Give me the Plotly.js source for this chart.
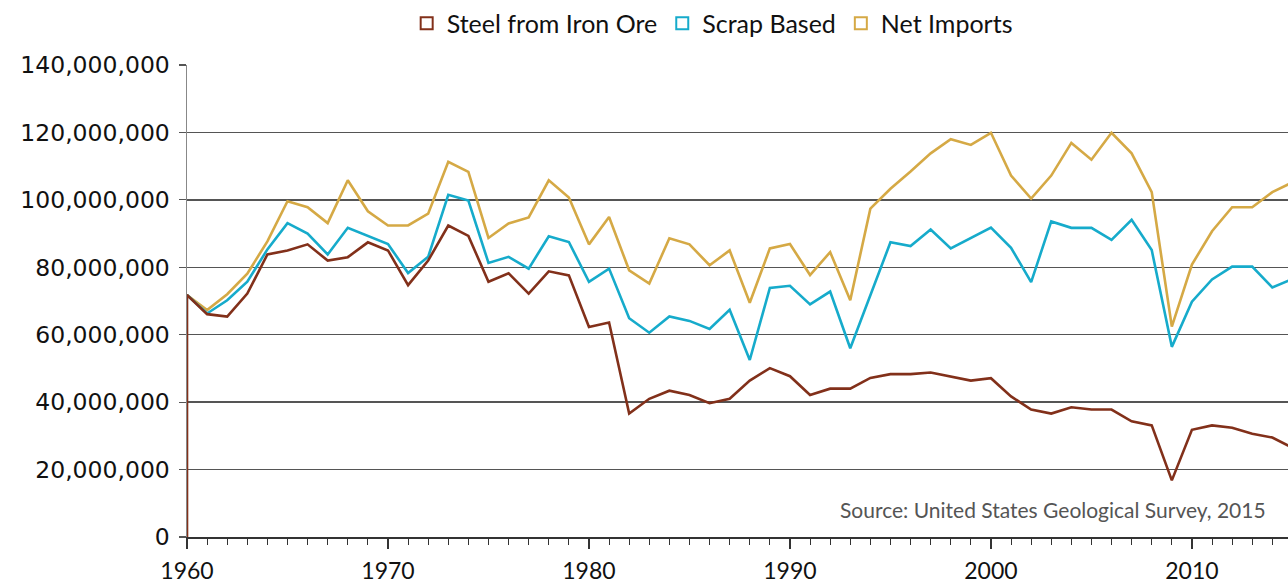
<!DOCTYPE html>
<html>
<head>
<meta charset="utf-8">
<script src="https://cdn.plot.ly/plotly-3.0.1.min.js"></script>
<style>
html,body{margin:0;padding:0;background:#fff;}
#chart{width:1288px;height:586px;}
</style>
</head>
<body>
<div id="chart"></div>
<script>
// Years 1960-2015
const years = [1960,1961,1962,1963,1964,1965,1966,1967,1968,1969,
  1970,1971,1972,1973,1974,1975,1976,1977,1978,1979,
  1980,1981,1982,1983,1984,1985,1986,1987,1988,1989,
  1990,1991,1992,1993,1994,1995,1996,1997,1998,1999,
  2000,2001,2002,2003,2004,2005,2006,2007,2008,2009,
  2010,2011,2012,2013,2014,2015];

// values in millions
const steelFromIronOre = [71.8,66.1,65.4,72.2,83.8,85.0,86.8,82.0,83.0,87.4,
  85.0,74.7,82.0,92.4,89.3,75.7,78.2,72.2,78.8,77.6,
  62.3,63.6,36.6,41.0,43.4,42.1,39.7,41.0,46.4,50.1,
  47.7,42.1,44.0,44.0,47.2,48.3,48.3,48.8,47.6,46.4,
  47.1,41.7,37.8,36.6,38.5,37.8,37.8,34.3,33.1,16.8,
  31.8,33.1,32.4,30.6,29.5,26.5];

const scrapBased = [71.8,66.3,70.2,75.7,85.3,93.1,90.0,83.8,91.7,89.2,
  86.9,78.3,83.1,101.5,99.8,81.3,83.1,79.6,89.2,87.5,
  75.7,79.6,64.9,60.6,65.4,64.1,61.7,67.4,52.5,73.9,
  74.5,69.0,72.8,56.0,72.0,87.4,86.3,91.2,85.6,88.7,
  91.8,85.8,75.6,93.6,91.7,91.7,88.1,94.1,85.1,56.4,
  69.8,76.4,80.2,80.2,74.0,76.5];

const netImports = [71.8,67.3,72.0,78.1,87.7,99.6,97.8,93.1,105.8,96.6,
  92.4,92.4,95.9,111.3,108.3,88.7,93.0,94.8,105.8,100.7,
  86.8,94.9,79.1,75.2,88.6,86.8,80.6,85.0,69.5,85.6,
  86.9,77.7,84.5,70.2,97.4,103.3,108.4,113.8,118.0,116.3,
  119.9,107.2,100.4,107.2,116.9,111.9,119.9,113.8,102.3,62.4,
  80.8,90.7,97.8,97.8,102.3,105.2];

const seriesNames = ["Steel from Iron Ore","Scrap Based","Net Imports"];
const seriesColors = ["#82301a","#16abcb","#d5a945"];
const sourceText = "Source: United States Geological Survey, 2015";

const M = 1e6;
const toAbs = a => a.map(v => v * M);

// the iron-ore line rises from the baseline at the first year
const steelX = [years[0]].concat(years);
const steelY = [0].concat(toAbs(steelFromIronOre));

const traces = [
  {x: years, y: toAbs(netImports), mode:"lines", line:{color:seriesColors[2], width:2.6}, showlegend:false, hoverinfo:"skip"},
  {x: years, y: toAbs(scrapBased), mode:"lines", line:{color:seriesColors[1], width:2.6}, showlegend:false, hoverinfo:"skip"},
  {x: steelX, y: steelY, mode:"lines", line:{color:seriesColors[0], width:2.6}, showlegend:false, hoverinfo:"skip"}
];
// legend entries with square outline icons
seriesNames.forEach((n,i) => {
  traces.push({x:[null], y:[null], mode:"markers", name:n,
    marker:{symbol:"square-open", size:18, color:seriesColors[i], line:{width:2.2, color:seriesColors[i]}},
    showlegend:true});
});

const layout = {
  width:1288, height:586,
  margin:{l:187, r:0, t:62, b:49},
  paper_bgcolor:"#fff", plot_bgcolor:"#fff",
  font:{family:"Lato, 'Noto Sans', sans-serif", color:"#111"},
  showlegend:true,
  legend:{orientation:"h", x:0.477, xanchor:"center", y:1.088, yanchor:"middle",
    font:{size:25, color:"#111"}, itemwidth:30, tracegroupgap:0, bgcolor:"rgba(0,0,0,0)",
    itemsizing:"constant"},
  xaxis:{range:[1960, 2014.78], dtick:10, tick0:1960, showgrid:false, zeroline:false,
    showline:true, linecolor:"#333", linewidth:1.5,
    ticks:"outside", ticklen:10, tickwidth:1.2, tickcolor:"#333", ticklabelstandoff:3,
    minor:{dtick:1, ticks:"outside", ticklen:6, tickcolor:"#333", tickwidth:1, showgrid:false},
    tickfont:{size:23, color:"#111"}, fixedrange:true},
  yaxis:{range:[0,140e6], dtick:20e6, tickformat:",", showgrid:true, gridcolor:"#555", gridwidth:1.5,
    zeroline:false, showline:true, linecolor:"#888", linewidth:1.5,
    ticks:"outside", ticklen:7, tickcolor:"#555", tickwidth:1.2, ticklabelstandoff:4,
    tickfont:{size:23.5, color:"#111", family:"'DejaVu Sans', Lato, sans-serif"}, fixedrange:true},
  annotations:[{xref:"paper", yref:"paper", x:0.982, y:0.059, xanchor:"right", yanchor:"middle",
    text:sourceText, showarrow:false, font:{size:21, color:"#555", family:"Lato, sans-serif"}}]
};

Plotly.newPlot("chart", traces, layout, {displayModeBar:false, staticPlot:true});
</script>
</body>
</html>
